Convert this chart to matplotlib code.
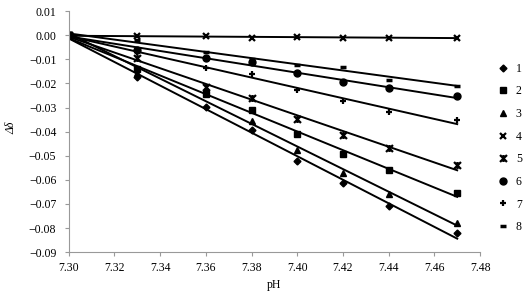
import numpy as np
import matplotlib
matplotlib.use("Agg")
import matplotlib.pyplot as plt
from matplotlib.path import Path

# pH values where the shifts were measured
ph = [7.30, 7.33, 7.36, 7.38, 7.40, 7.42, 7.44, 7.47]

# chemical shift change for each signal
s1 = [0.0, -0.0175, -0.0296, -0.0393, -0.0522, -0.0612, -0.0710, -0.0820]
s2 = [0.0, -0.0140, -0.0245, -0.0310, -0.0408, -0.0493, -0.0558, -0.0655]
s3 = [0.0, -0.0155, -0.0225, -0.0354, -0.0478, -0.0572, -0.0660, -0.0780]
s4 = [0.0, -0.0005, -0.0005, -0.0010, -0.0008, -0.0010, -0.0010, -0.0010]
s5 = [0.0, -0.0095, -0.0213, -0.0260, -0.0347, -0.0413, -0.0468, -0.0538]
s6 = [0.0, -0.0060, -0.0095, -0.0113, -0.0158, -0.0195, -0.0220, -0.0254]
s7 = [0.0, -0.0070, -0.0134, -0.0162, -0.0227, -0.0275, -0.0317, -0.0350]
s8 = [0.0, -0.0020, -0.0070, -0.0100, -0.0123, -0.0130, -0.0185, -0.0209]

series = [s1, s2, s3, s4, s5, s6, s7, s8]
labels = ["1", "2", "3", "4", "5", "6", "7", "8"]

# "star" marker: an x with a vertical bar through it
star = Path([(-1, -1), (1, 1), (-1, 1), (1, -1), (0, -1), (0, 1)],
            [Path.MOVETO, Path.LINETO, Path.MOVETO, Path.LINETO,
             Path.MOVETO, Path.LINETO])

styles = [
    dict(marker="D", ms=3.5),
    dict(marker="s", ms=5),
    dict(marker="^", ms=5),
    dict(marker="x", ms=5, mew=1.6),
    dict(marker=star, ms=5, mew=1.6),
    dict(marker="o", ms=5),
    dict(marker="+", ms=5, mew=1.6),
    dict(marker="_", ms=5, mew=2.5),
]

plt.rcParams["font.family"] = ["Liberation Serif", "DejaVu Serif"]

fig = plt.figure(figsize=(5.29, 2.98), dpi=100)
ax = fig.add_axes([0.130, 0.154, 0.7775, 0.8087])

x = np.array(ph)
for vals, lab, st in zip(series, labels, styles):
    y = np.array(vals)
    ax.plot(x, y, linestyle="none", color="black", label=lab, **st)
    k, b = np.polyfit(x, y, 1)
    ax.plot([x[0], x[-1]], [k * x[0] + b, k * x[-1] + b], color="black", lw=1.4)

xt = np.arange(7.30, 7.481, 0.02)
yt = np.arange(-0.09, 0.0101, 0.01)
ax.set_xlim(7.30, 7.48)
ax.set_ylim(-0.09, 0.01)
ax.set_xticks(xt)
ax.set_xticklabels([f"{v:.2f}" for v in xt])
ax.set_yticks(yt)
ax.set_yticklabels([f"{v:.2f}".replace("-", "\u2212") if abs(v) > 1e-9 else "0.00"
                    for v in yt])

for side in ["top", "right"]:
    ax.spines[side].set_visible(False)
for side in ["left", "bottom"]:
    ax.spines[side].set_color("#999999")
    ax.spines[side].set_linewidth(0.8)
ax.tick_params(colors="#999999", labelcolor="black", labelsize=8.5, length=3, width=0.8)
ax.tick_params(axis="y", pad=6)
ax.tick_params(axis="x", pad=4)

ax.set_xlabel("pH", fontsize=8.5)
ax.set_ylabel("\u0394\u03b4", fontsize=8.5, style="italic")
ax.xaxis.set_label_coords(0.5, -0.112)
ax.yaxis.set_label_coords(-0.126, 0.515)

leg = fig.legend(loc="upper left", bbox_to_anchor=(0.935, 0.805), frameon=False,
                 fontsize=8.5, handlelength=0.7, handletextpad=0.7,
                 labelspacing=0.9, borderaxespad=0)

fig.savefig("out.png", dpi=100)
